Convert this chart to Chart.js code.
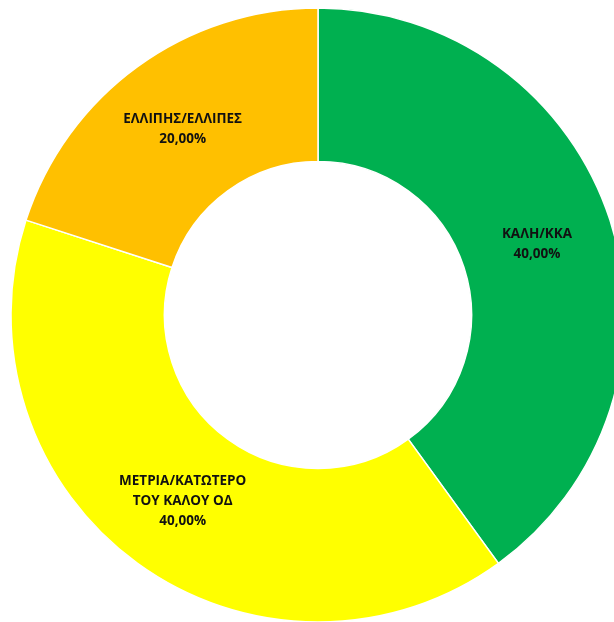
<!DOCTYPE html>
<html>
<head>
<meta charset="utf-8">
<script src="https://cdn.jsdelivr.net/npm/chart.js@4/dist/chart.umd.min.js"></script>
<style>
  html, body { margin: 0; padding: 0; background: #fff; overflow: hidden; }
  #wrap { position: absolute; left: 0; top: 0; width: 636px; height: 630px; }
</style>
</head>
<body>
<div id="wrap"><canvas id="grafica"></canvas></div>
<script>
var etiquetas = [['ΚΑΛΗ/ΚΚΑ'], ['ΜΕΤΡΙΑ/ΚΑΤΩΤΕΡΟ', 'ΤΟΥ ΚΑΛΟΥ ΟΔ'], ['ΕΛΛΙΠΗΣ/ΕΛΛΙΠΕΣ']];
var valores = [40, 40, 20];
var colores = ['#00B050', '#FFFF00', '#FFC000'];

// etiquetas dentro de cada porcion, como en excel
var etiquetasPlugin = {
    id: 'etiquetasPorcion',
    afterDatasetsDraw: function (chart) {
        let ctx = chart.ctx;
        let meta = chart.getDatasetMeta(0);
        let total = valores.reduce((a, b) => a + b, 0);
        ctx.save();
        ctx.font = 'bold 13.5px "Open Sans", "DejaVu Sans", sans-serif';
        ctx.fillStyle = '#111111';
        ctx.textAlign = 'center';
        ctx.textBaseline = 'middle';
        meta.data.forEach((arco, i) => {
            let pos = arco.tooltipPosition();
            let lineas = etiquetas[i].slice();
            lineas.push((valores[i] / total * 100).toFixed(2).replace('.', ',') + '%');
            let alto = 20;
            let y0 = pos.y - (lineas.length - 1) * alto / 2;
            lineas.forEach((l, j) => {
                ctx.fillText(l, pos.x, y0 + j * alto);
            });
        });
        ctx.restore();
    }
};

let grafica = document.getElementById('grafica').getContext('2d');
let graficaChart = new Chart(grafica, {
    type: 'doughnut',
    data: {
        labels: etiquetas,
        datasets: [{
            data: valores,
            backgroundColor: colores,
            borderColor: '#ffffff',
            borderWidth: 1.5,
            hoverOffset: 0
        }]
    },
    options: {
        responsive: true,
        maintainAspectRatio: false,
        animation: false,
        radius: 307,
        cutout: '50%',
        layout: { padding: 0 },
        plugins: {
            legend: { display: false },
            tooltip: { enabled: false }
        }
    },
    plugins: [etiquetasPlugin]
});
</script>
</body>
</html>
